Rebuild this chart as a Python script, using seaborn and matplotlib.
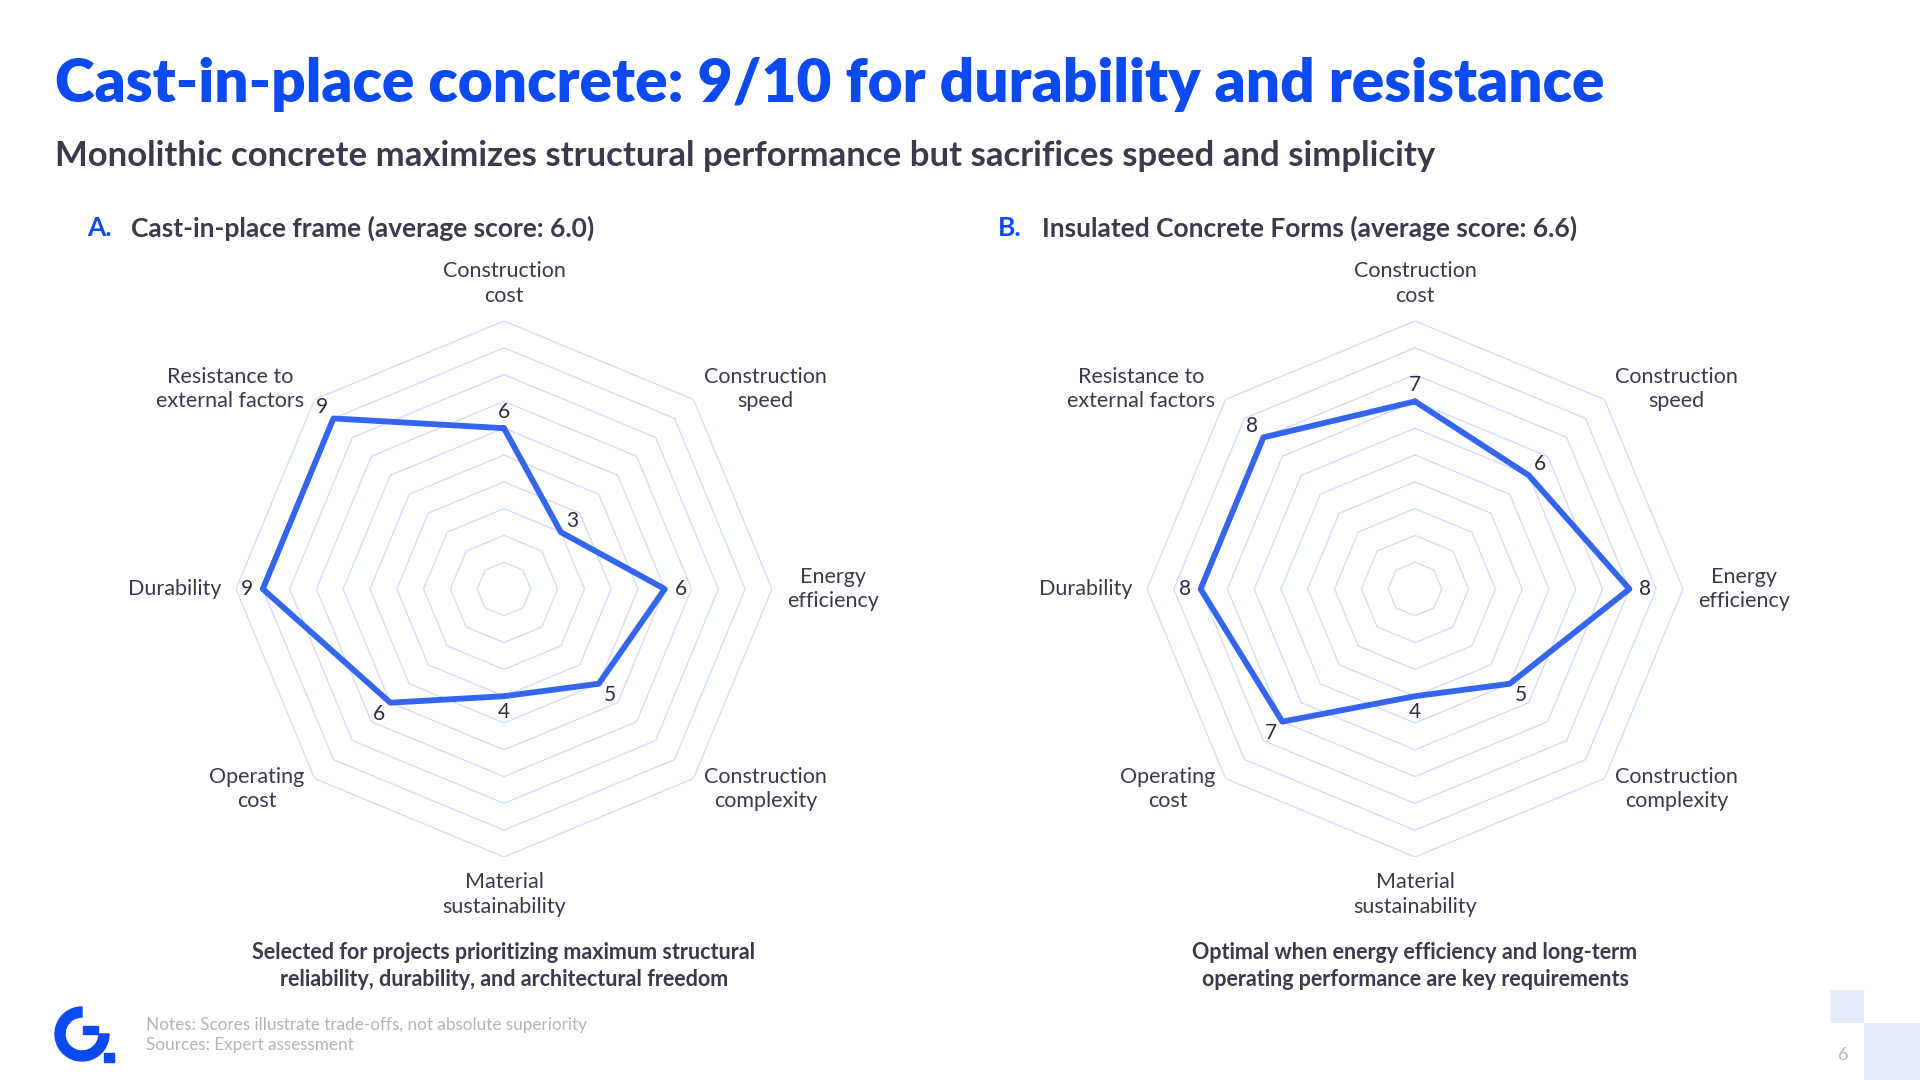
import numpy as np
import pandas as pd
import matplotlib
matplotlib.use("Agg")
import matplotlib.pyplot as plt
import matplotlib.patches as mpatches
import seaborn as sns

# data
categories = ["Construction\ncost", "Construction\nspeed", "Energy\nefficiency",
              "Construction\ncomplexity", "Material\nsustainability", "Operating\ncost",
              "Durability", "Resistance to\nexternal factors"]
scores_cip = [6, 3, 6, 5, 4, 6, 9, 9]
scores_icf = [7, 6, 8, 5, 4, 7, 8, 8]
panel_titles = ["Cast-in-place frame (average score: 6.0)",
                "Insulated Concrete Forms (average score: 6.6)"]
panel_letters = ["A.", "B."]
captions = ["Selected for projects prioritizing maximum structural\nreliability, durability, and architectural freedom",
            "Optimal when energy efficiency and long-term\noperating performance are key requirements"]
grid_levels = list(range(1, 11))

BLUE = "#0A4AF0"
LINE = "#3465EE"
GRID = "#D3DCFB"
DARK = "#3A3A4C"

sns.set_theme(style="white")
plt.rcParams["font.family"] = ["Lato", "DejaVu Sans"]

W, H = 1920, 1080
fig = plt.figure(figsize=(W / 100, H / 100), dpi=100)
fig.patch.set_facecolor("white")

fig.text(55 / W, 1 - 85 / H, "Cast-in-place concrete: 9/10 for durability and resistance",
         color=BLUE, fontsize=43.5, fontweight="heavy", va="center", ha="left")
fig.text(55 / W, 1 - 156 / H,
         "Monolithic concrete maximizes structural performance but sacrifices speed and simplicity",
         color=DARK, fontsize=25, fontweight="bold", va="center", ha="left")

n = len(categories)
theta = np.linspace(0, 2 * np.pi, n, endpoint=False)
theta_closed = np.append(theta, 2 * np.pi)

centers = [504, 1415]
cy = 589
R = 268
panels = [scores_cip, scores_icf]

for i, scores in enumerate(panels):
    cx = centers[i]
    ax = fig.add_axes([(cx - R) / W, (H - cy - R) / H, 2 * R / W, 2 * R / H], projection="polar")
    ax.set_theta_zero_location("N")
    ax.set_theta_direction(-1)
    ax.set_ylim(0, 10)
    ax.grid(False)
    ax.set_xticks([])
    ax.set_yticks([])
    ax.spines["polar"].set_visible(False)
    ax.set_facecolor("none")

    for lvl in grid_levels:
        ax.plot(theta_closed, [lvl] * (n + 1), color=GRID, lw=1.0, zorder=1)

    df = pd.DataFrame({"theta": theta_closed, "score": scores + scores[:1]})
    sns.lineplot(data=df, x="theta", y="score", sort=False, color=LINE, lw=4.2,
                 ax=ax, zorder=3)
    ax.set_xlabel("")
    ax.set_ylabel("")

    for t, s in zip(theta, scores):
        ax.text(t, s + 0.6, str(s), ha="center", va="center", fontsize=15,
                color="#2E2E3A", zorder=4)

    for t, lab in zip(theta, categories):
        sx, cyn = np.sin(t), np.cos(t)
        ha = "center" if abs(sx) < 0.01 else ("left" if sx > 0 else "right")
        if abs(sx) < 0.01:
            va = "bottom" if cyn > 0 else "top"
        else:
            va = "center"
        ax.text(t, 10.55, lab, ha=ha, va=va, fontsize=15.5, multialignment="center",
                color=DARK, linespacing=1.3)

    # panel heading
    lx = [87, 998][i]
    fig.text(lx / W, 1 - 228 / H, panel_letters[i], color=BLUE, fontsize=19,
             fontweight="bold", va="center", ha="left")
    fig.text((lx + 44) / W, 1 - 228 / H, panel_titles[i], color=DARK, fontsize=19,
             fontweight="bold", va="center", ha="left")

    fig.text(cx / W, 1 - 966 / H, captions[i], color=DARK, fontsize=15.5,
             fontweight="bold", va="center", ha="center", linespacing=1.35)

# footer notes
fig.text(146 / W, 1 - 1025 / H, "Notes: Scores illustrate trade-offs, not absolute superiority",
         color="#B4B4B4", fontsize=12.3, va="center", ha="left")
fig.text(146 / W, 1 - 1045 / H, "Sources: Expert assessment",
         color="#B4B4B4", fontsize=12.3, va="center", ha="left")

# logo and corner decoration in pixel coordinates
deco = fig.add_axes([0, 0, 1, 1], zorder=-1)
deco.set_xlim(0, W)
deco.set_ylim(H, 0)
deco.axis("off")
deco.add_patch(mpatches.Wedge((82, 1034), 27, 0, 270, width=10, color=BLUE))
deco.add_patch(mpatches.Rectangle((83, 1026), 15, 8, color=BLUE))
deco.add_patch(mpatches.Rectangle((104, 1053), 10, 9, color=BLUE))
deco.add_patch(mpatches.Rectangle((1830, 990), 34, 33, color="#E8EDFD", lw=0))
deco.add_patch(mpatches.Rectangle((1864, 1023), 56, 57, color="#E8EDFD", lw=0))
deco.text(1843, 1055, "6", color="#BBBBBB", fontsize=13, ha="center", va="center")

fig.savefig("out.png", dpi=100, facecolor="white")
